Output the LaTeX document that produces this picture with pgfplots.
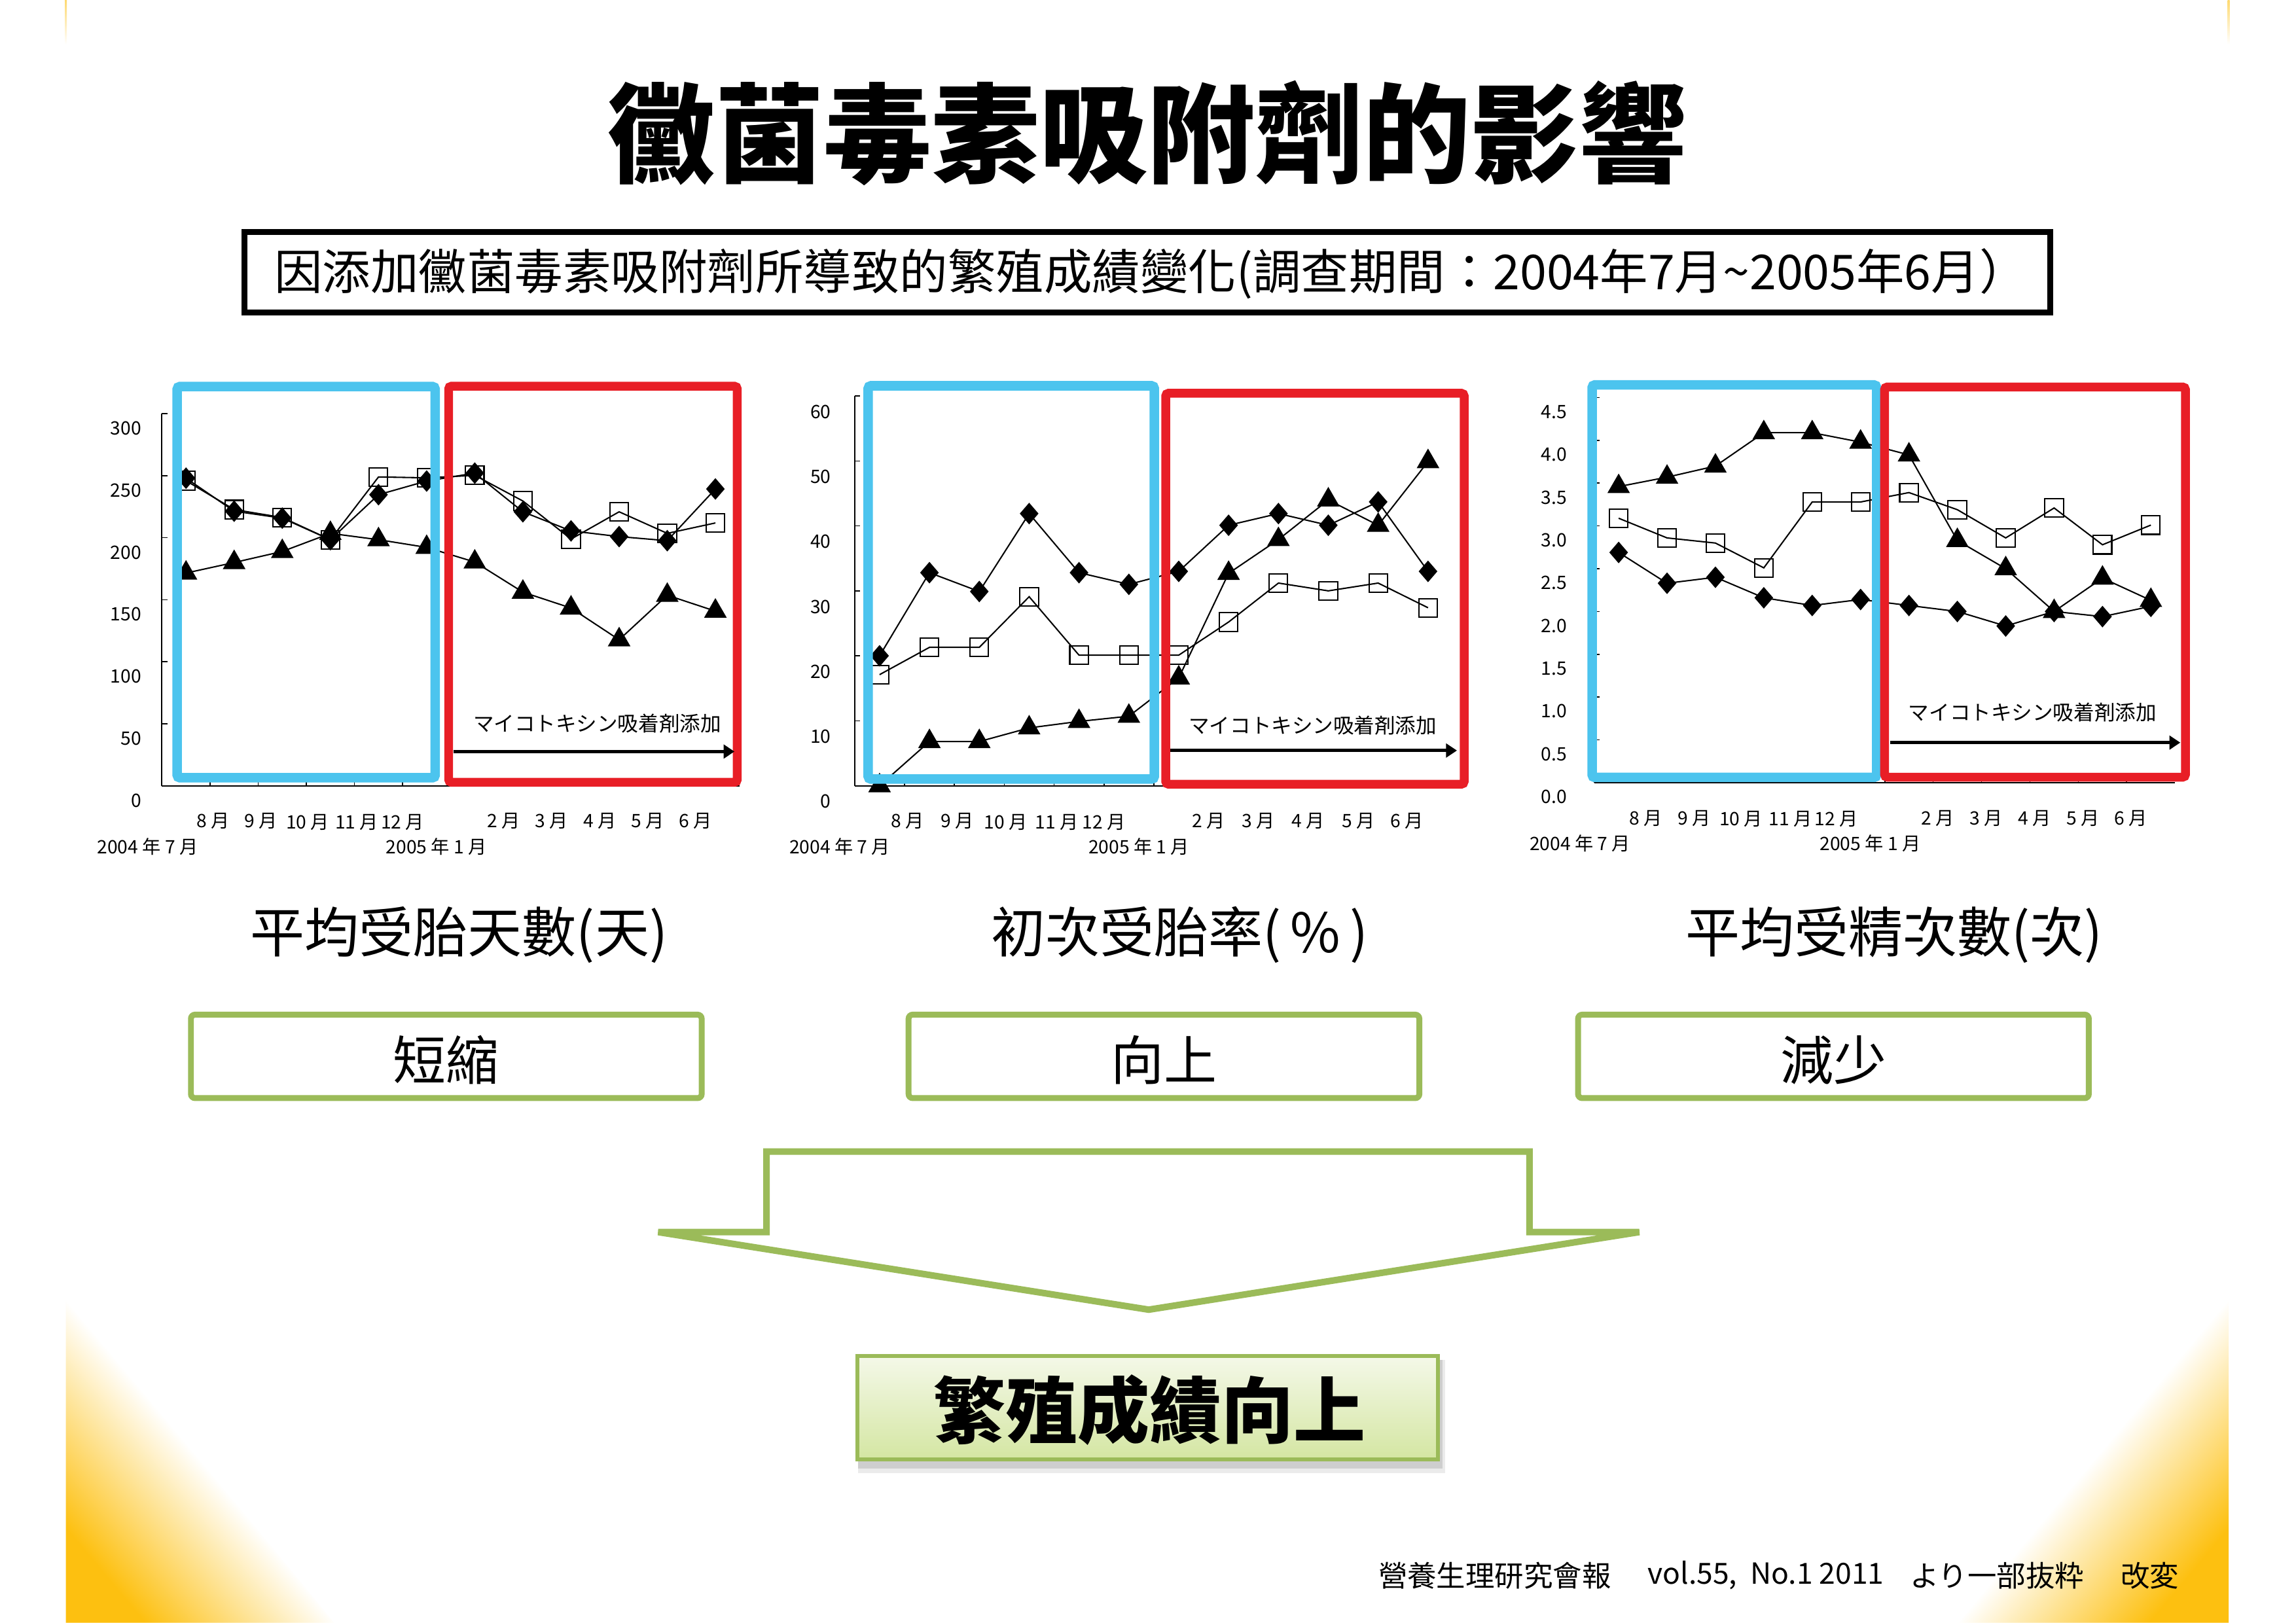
\documentclass[border=0pt]{standalone}
\usepackage{pgfplots}
\usepackage{pgfplotstable}
\pgfplotsset{compat=1.18}
\usepackage{fontspec}
\setmainfont{Noto Sans CJK TC}
\newfontfamily\jp{Noto Sans CJK JP}
\usetikzlibrary{arrows.meta}
\definecolor{cblue}{RGB}{76,196,238}
\definecolor{cred}{RGB}{232,30,38}
\definecolor{cgreen}{RGB}{155,187,89}
\definecolor{cyel}{RGB}{253,192,16}
\definecolor{gtop}{RGB}{244,248,232}
\definecolor{gbot}{RGB}{212,230,162}

\pgfplotstableread{
i sq dia tri
0 246 248 171.5
1 222.7 221.4 180
2 216.3 215.8 188.9
3 198.4 198.4 203.5
4 249 234.7 198.4
5 248.3 245.7 192.2
6 250.3 252.1 180.4
7 229.6 220.9 156.1
8 198.9 205.5 143.3
9 220.9 200.9 117.7
10 203.5 197.6 153.6
11 211.9 239.3 140.8
}\dataA
\pgfplotstableread{
i sq dia tri
0 17.1 20 0
1 21.3 32.8 6.8
2 21.3 29.9 6.8
3 29.1 41.9 8.9
4 20.1 32.8 9.9
5 20.1 31.0 10.7
6 20.1 33.0 16.6
7 25.2 40.1 32.7
8 31.2 41.9 37.9
9 30.0 40.1 44.0
10 31.2 43.7 40.1
11 27.4 33.0 49.9
}\dataB
\pgfplotstableread{
i sq dia tri
0 3.09 2.69 3.46
1 2.86 2.33 3.57
2 2.80 2.40 3.70
3 2.51 2.16 4.09
4 3.28 2.07 4.09
5 3.28 2.14 3.98
6 3.39 2.07 3.83
7 3.19 2.00 2.83
8 2.86 1.83 2.50
9 3.21 2.00 2.00
10 2.78 1.94 2.39
11 3.01 2.06 2.13
}\dataC

\tikzset{px/.style={x=0.018941cm, y=-0.018941cm, shift={(0cm,20.9866cm)}},
  pxu/.style={x=0.018941cm, y=0.018941cm},
  mlbl/.style={font=\jp\fontsize{6.8}{8}\selectfont, inner sep=0pt}}

\pgfplotsset{
  slide/.style={
    scale only axis, clip=false,
    xmin=-0.5, xmax=11.5,
    axis x line=bottom, axis y line=left,
    axis line style={-, black, line width=0.5pt},
    tick style={black, line width=0.4pt},
    tick align=inside,
    major tick length=0.07cm,
    xtick={0.5,1.5,...,10.5}, xticklabels={},
    yticklabel style={font=\jp\fontsize{6.8}{8}\selectfont, anchor=east, inner sep=0pt},
    /pgf/number format/assume math mode=true,
  },
  sqs/.style={black, line width=0.5pt, mark=square, mark size=3.4pt, mark options={solid, draw=black, line width=0.5pt}},
  dias/.style={black, line width=0.5pt, mark=diamond*, mark size=3.6pt, mark options={xscale=1.15, fill=black}},
  tris/.style={black, line width=0.5pt, mark=triangle*, mark size=4.3pt, mark options={fill=black}},
}

\newcommand\monthlabels{%
  \node[mlbl, yshift=-0.46cm] at (axis cs:0.56,0) {8 月};
  \node[mlbl, yshift=-0.46cm] at (axis cs:1.56,0) {9 月};
  \node[mlbl, yshift=-0.47cm] at (axis cs:2.53,0) {10 月};
  \node[mlbl, yshift=-0.47cm] at (axis cs:3.55,0) {11 月};
  \node[mlbl, yshift=-0.47cm] at (axis cs:4.5,0) {12 月};
  \node[mlbl, yshift=-0.46cm] at (axis cs:6.6,0) {2 月};
  \node[mlbl, yshift=-0.46cm] at (axis cs:7.6,0) {3 月};
  \node[mlbl, yshift=-0.46cm] at (axis cs:8.6,0) {4 月};
  \node[mlbl, yshift=-0.46cm] at (axis cs:9.6,0) {5 月};
  \node[mlbl, yshift=-0.46cm] at (axis cs:10.58,0) {6 月};
  \node[mlbl, yshift=-0.79cm] at (axis cs:-0.8,0) {2004 年 7 月};
  \node[mlbl, yshift=-0.79cm] at (axis cs:5.2,0) {2005 年 1 月};
}

\begin{document}
\begin{tikzpicture}
\begin{scope}[px]
  \path[use as bounding box] (0,0) rectangle (1568,1108);
  \fill[white] (0,0) rectangle (1568,1108);
\end{scope}
\begin{scope}[pxu]
  % yellow corners: middle color must come last (bottom color resets it)
  \shade[top color=white, bottom color=cyel, middle color=white, shading angle=-50]
    (45,223) -- (45,0) -- (228,0) -- cycle;
  \shade[top color=white, bottom color=cyel, middle color=white, shading angle=50]
    (1522,223) -- (1522,0) -- (1338,0) -- cycle;
  \shade[top color=cyel!60, bottom color=white] (44.3,1108) rectangle (45.7,1078);
  \shade[top color=cyel!60, bottom color=white] (1521.3,1108) rectangle (1522.7,1078);
\end{scope}
\begin{scope}[px]
  % title
  \node[font=\fontsize{39.7}{46}\selectfont\bfseries] at (783.5,91) {黴菌毒素吸附劑的影響};
  % subtitle box
  \draw[line width=0.076cm] (167,158.5) rectangle (1400,213.5);
  \node[font=\fontsize{17.7}{20}\selectfont] at (786,187)
    {因添加黴菌毒素吸附劑所導致的繁殖成績變化(調查期間：2004年7月\textasciitilde2005年6月）};
  % chart titles
  \node[font=\fontsize{20}{24}\selectfont] at (313.5,638.5) {平均受胎天數(天)};
  \node[font=\fontsize{20}{24}\selectfont] at (805.6,638.5) {初次受胎率(\,\%\,)};
  \node[font=\fontsize{20}{24}\selectfont] at (1293.5,638.5) {平均受精次數(次)};
  % green boxes
  \draw[cgreen, line width=0.076cm, rounded corners=1.5pt] (130.4,693) rectangle (479.2,750);
  \draw[cgreen, line width=0.076cm, rounded corners=1.5pt] (620.5,693) rectangle (969.3,750);
  \draw[cgreen, line width=0.076cm, rounded corners=1.5pt] (1077.7,693) rectangle (1426.5,750);
  \node[font=\fontsize{19.5}{22}\selectfont] at (304.8,724) {短縮};
  \node[font=\fontsize{19.5}{22}\selectfont] at (794.9,724) {向上};
  \node[font=\fontsize{19.5}{22}\selectfont] at (1252.1,724) {減少};
  % big arrow
  \draw[cgreen, fill=white, line width=0.085cm]
    (523.5,786.5) -- (1044.5,786.5) -- (1044.5,841.5) -- (1119.5,841.5) -- (784.5,894.5)
    -- (449.5,841.5) -- (523.5,841.5) -- cycle;
  % result box shadow
  \fill[black, opacity=0.08] (586,929) rectangle (987,1006);
  \fill[black, opacity=0.12] (586,929) rectangle (985,1003);
\end{scope}
\begin{scope}[pxu]
  \shade[top color=gtop, bottom color=gbot] (585.5,181.8) rectangle (982.2,111.2);
\end{scope}
\begin{scope}[px]
  \draw[cgreen, line width=0.05cm] (585.5,926.2) rectangle (982.2,996.8);
  \node[font=\fontsize{26.5}{30}\selectfont\bfseries] at (785,963) {繁殖成績向上};
  % footer
  \node[anchor=west, inner sep=0pt, font=\fontsize{10.7}{12}\selectfont] at (941,1076) {營養生理研究會報};
  \node[anchor=west, inner sep=0pt, font=\fontsize{10.7}{12}\selectfont] at (1125,1076) {vol.55,\ \ No.1 2011};
  \node[anchor=west, inner sep=0pt, font=\jp\fontsize{10.7}{12}\selectfont] at (1304,1076) {より一部抜粋};
  \node[anchor=west, inner sep=0pt, font=\jp\fontsize{10.7}{12}\selectfont] at (1448,1076) {改変};
\end{scope}

% chart 1
\begin{axis}[slide, at={(2.0943cm,10.825cm)}, anchor=south west,
  width=7.468cm, height=4.811cm, ymin=0, ymax=300, ytick={0,50,...,300},
  yticklabel style={xshift=-0.26cm, yshift=-0.19cm}]
  \addplot[sqs] table[x=i, y=sq] {\dataA};
  \addplot[dias] table[x=i, y=dia] {\dataA};
  \addplot[tris] table[x=i, y=tri] {\dataA};
  \monthlabels
\end{axis}
% chart 2
\begin{axis}[slide, at={(11.052cm,10.825cm)}, anchor=south west,
  width=7.737cm, height=5.040cm, ymin=0, ymax=60, ytick={0,10,...,60},
  yticklabel style={xshift=-0.30cm, yshift=-0.205cm}]
  \addplot[sqs] table[x=i, y=sq] {\dataB};
  \addplot[dias] table[x=i, y=dia] {\dataB};
  \addplot[tris] table[x=i, y=tri] {\dataB};
  \monthlabels
\end{axis}
% chart 3
\begin{axis}[slide, at={(20.619cm,10.866cm)}, anchor=south west,
  width=7.508cm, height=4.978cm, ymin=0, ymax=4.5, ytick={0,0.5,...,4.5},
  yticklabel style={xshift=-0.35cm, yshift=-0.185cm, /pgf/number format/.cd, fixed, fixed zerofill, precision=1}]
  \addplot[sqs] table[x=i, y=sq] {\dataC};
  \addplot[dias] table[x=i, y=dia] {\dataC};
  \addplot[tris] table[x=i, y=tri] {\dataC};
  \monthlabels
\end{axis}

\begin{scope}[px]
  % chart 1 frames
  \draw[cblue, line width=0.123cm, rounded corners=1pt] (121,264) rectangle (297.2,531.2);
  \draw[cred, line width=0.114cm, rounded corners=1pt] (306.4,263.8) rectangle (503.5,534.3);
  % chart 2 frames
  \draw[cblue, line width=0.123cm, rounded corners=1pt] (592.9,263.5) rectangle (788.3,532.1);
  \draw[cred, line width=0.114cm, rounded corners=1pt] (796.1,268.6) rectangle (999.9,535.6);
  % chart 3 frames
  \draw[cblue, line width=0.123cm, rounded corners=1pt] (1087.3,262.9) rectangle (1281.6,531);
  \draw[cred, line width=0.114cm, rounded corners=1pt] (1287,264.3) rectangle (1492.5,530.8);
  % arrows
  \draw[line width=1.2pt, -{Triangle[length=4pt,width=5pt]}] (309.7,513.3) -- (501.6,513.3);
  \draw[line width=1.2pt, -{Triangle[length=4pt,width=5pt]}] (799.3,512.6) -- (995,512.6);
  \draw[line width=1.2pt, -{Triangle[length=4pt,width=5pt]}] (1291,507.2) -- (1489,507.2);
  \node[font=\jp\fontsize{7.6}{9}\selectfont] at (407.8,494.2) {マイコトキシン吸着剤添加};
  \node[font=\jp\fontsize{7.6}{9}\selectfont] at (896.5,495.3) {マイコトキシン吸着剤添加};
  \node[font=\jp\fontsize{7.6}{9}\selectfont] at (1388,486.6) {マイコトキシン吸着剤添加};
\end{scope}
\end{tikzpicture}
\end{document}
